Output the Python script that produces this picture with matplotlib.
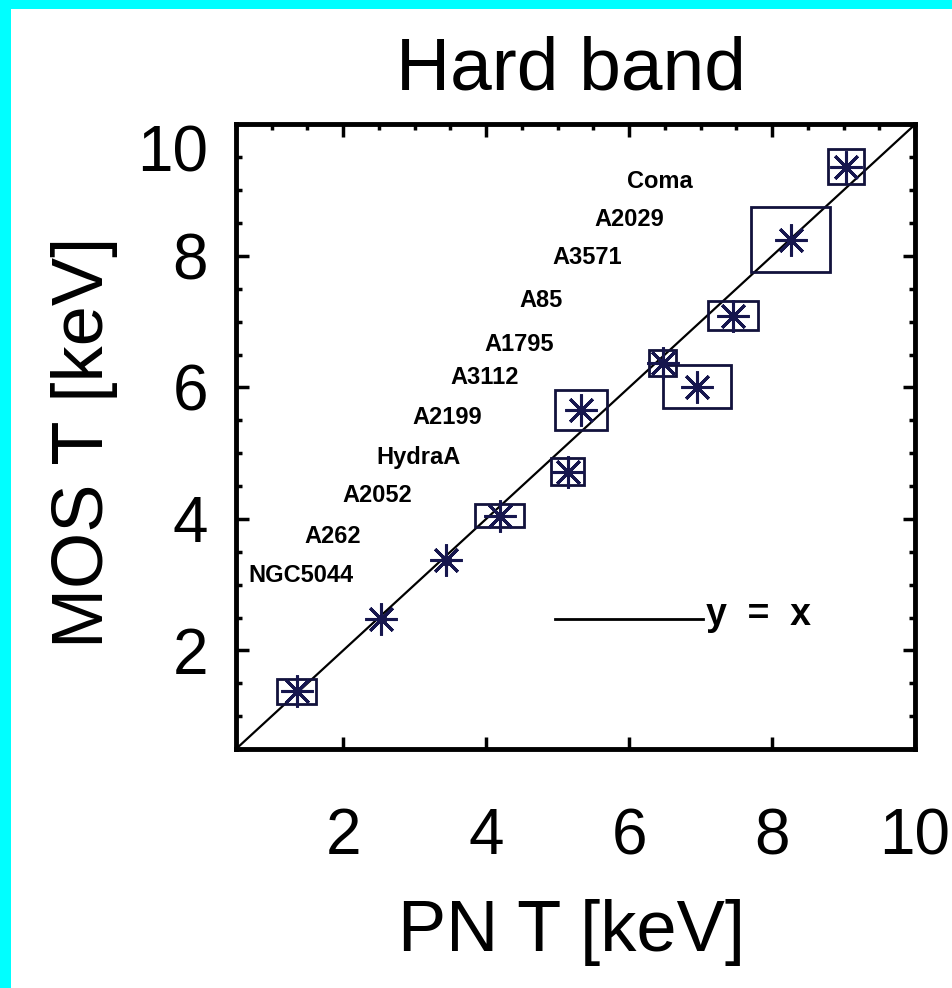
import matplotlib
matplotlib.use('Agg')
import matplotlib.pyplot as plt
from matplotlib import font_manager
from matplotlib.patches import Rectangle
from matplotlib.ticker import MultipleLocator

# cluster temperatures, PN vs MOS, hard band
clusters = ['Coma', 'A2029', 'A3571', 'A85', 'A1795', 'A3112',
            'A2199', 'HydraA', 'A2052', 'A262', 'NGC5044']
pn_t = [1.35, 2.53, 3.44, 4.19, 5.14, 5.33, 6.47, 6.95, 7.45, 8.26, 9.03]
mos_t = [1.38, 2.48, 3.37, 4.05, 4.72, 5.66, 6.37, 6.01, 7.09, 8.25, 9.36]
pn_err = [0.27, 0.05, 0.05, 0.34, 0.23, 0.36, 0.19, 0.47, 0.35, 0.55, 0.25]
mos_err = [0.19, 0.05, 0.05, 0.17, 0.21, 0.30, 0.20, 0.33, 0.22, 0.49, 0.27]
ticks = [2, 4, 6, 8, 10]

# where the name list is written (data coords)
label_x = [6.43, 6.00, 5.42, 4.77, 4.46, 3.98, 3.45, 3.06, 2.47, 1.86, 1.41]
label_y = [9.14, 8.56, 7.97, 7.33, 6.65, 6.15, 5.54, 4.93, 4.35, 3.73, 3.14]

installed = {f.name for f in font_manager.fontManager.ttflist}


def pick(*names):
    for n in names:
        if n in installed:
            return n
    return 'DejaVu Sans'


thin = pick('Liberation Sans Narrow', 'Liberation Sans')
plt.rcParams['font.family'] = thin

fig = plt.figure(figsize=(9.53, 9.88), dpi=100, facecolor='#00ffff')
fig.patches.append(Rectangle((11 / 953, 0), 1, 1 - 9 / 988, transform=fig.transFigure,
                             facecolor='white', edgecolor='none', zorder=-1))

ax = fig.add_axes([236 / 953, 1 - 749 / 988, (915 - 236) / 953, (749 - 124.5) / 988])
ax.set_xlim(0.5, 10)
ax.set_ylim(0.5, 10)

ax.axline((0, 0), slope=1, color='black', lw=1.6, zorder=1)
for x, y, xe, ye in zip(pn_t, mos_t, pn_err, mos_err):
    ax.add_patch(Rectangle((x - xe, y - ye), 2 * xe, 2 * ye, fill=False,
                           edgecolor='#12123c', lw=2, zorder=2))
ax.plot(pn_t, mos_t, ls='none', marker=(8, 2, 0), ms=23, mew=2.2,
        color='#16164e', zorder=3)

for name, lx, ly in zip(clusters, label_x, label_y):
    ax.text(lx, ly, name, ha='center', va='center', fontsize=17,
            fontweight='bold', color='black')

# legend for the reference line
ax.plot([0.47, 0.688], [0.208, 0.208], transform=ax.transAxes, color='black', lw=2)
ax.text(0.692, 0.214, 'y  =  x', transform=ax.transAxes, ha='left', va='center',
        fontsize=27, fontweight='bold')

ax.set_xticks(ticks)
ax.set_yticks(ticks)
ax.xaxis.set_minor_locator(MultipleLocator(0.5))
ax.yaxis.set_minor_locator(MultipleLocator(0.5))
ax.tick_params(which='major', direction='in', length=9, width=2.5,
               top=True, right=True, labelsize=46)
ax.tick_params(which='minor', direction='in', length=4.5, width=2.5,
               top=True, right=True, bottom=False)
ax.tick_params(axis='x', which='major', pad=42)
ax.tick_params(axis='y', which='major', pad=20)
for s in ax.spines.values():
    s.set_linewidth(3.5)
ax.get_yticklabels()[-1].set_va('top')

fig.text(571 / 953, 1 - 70 / 988, 'Hard band', ha='center', va='center', fontsize=54)
fig.text(572 / 953, 1 - 933 / 988, 'PN T [keV]', ha='center', va='center', fontsize=52)
fig.text(85 / 953, 1 - 442 / 988, 'MOS T [keV]', ha='center', va='center',
         fontsize=52, rotation=90)

fig.savefig('out.png', dpi=100, facecolor=fig.get_facecolor())
